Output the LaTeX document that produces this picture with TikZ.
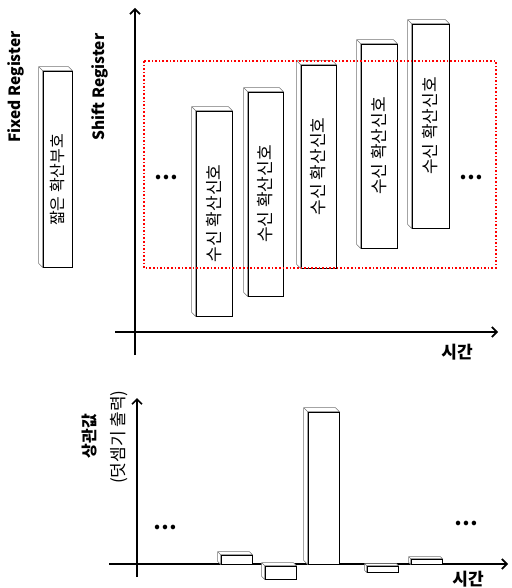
\documentclass[tikz,border=0pt]{standalone}
\usepackage{fontspec}
\newfontfamily\kr{Noto Sans CJK KR}
\usetikzlibrary{calc,arrows.meta}
\begin{document}
\begin{tikzpicture}
  [x=1pt,y=-1pt,font=\kr,
   bar/.style={draw,fill=white,inner sep=0pt,line width=0.8pt},
   side/.style={draw=black!55,fill=white,line width=0.6pt},
   axis/.style={line width=1.7pt,-{Straight Barb[length=5pt,width=10pt,line width=1.7pt]}},
   dots/.style={font=\kr\bfseries\fontsize{21}{21}\selectfont}]
  \useasboundingbox (0,0) rectangle (511,588);

  % axes
  \coordinate (y1) at (135,355);
  \coordinate (y1e) at (135,8);
  \coordinate (x1) at (115,332);
  \coordinate (x1e) at (498,332);
  \coordinate (y2) at (137,577);
  \coordinate (y2e) at (137,398);
  \coordinate (x2) at (109,564);
  \coordinate (x2e) at (508,564);
  \draw[axis] (y1) -- (y1e);
  \draw[axis] (x1) -- (x1e);
  \draw[axis] (y2) -- (y2e);
  \draw[axis] (x2) -- (x2e);

  % registers
  \node (f1)[bar,minimum width=29pt,minimum height=196pt] at (57.5,169) {\rotatebox{90}{\kr\fontsize{16}{16}\selectfont 짧은 확산부호\hspace{22pt}}};
  \node (s1)[bar,minimum width=36pt,minimum height=205pt] at (214,213.5) {\rotatebox{90}{\kr\fontsize{17}{17}\selectfont 수신 확산신호}};
  \node (s2)[bar,minimum width=35pt,minimum height=204pt] at (265.5,194) {\rotatebox{90}{\kr\fontsize{17}{17}\selectfont 수신 확산신호}};
  \node (s3)[bar,minimum width=35pt,minimum height=203pt] at (318.5,166.5) {\rotatebox{90}{\kr\fontsize{17}{17}\selectfont 수신 확산신호}};
  \node (s4)[bar,minimum width=36pt,minimum height=204pt] at (379,146) {\rotatebox{90}{\kr\fontsize{17}{17}\selectfont 수신 확산신호}};
  \node (s5)[bar,minimum width=37pt,minimum height=204pt] at (430.5,126) {\rotatebox{90}{\kr\fontsize{17}{17}\selectfont 수신 확산신호}};

  % correlator output
  \node (b1)[bar,minimum width=31pt,minimum height=9pt] at (236.5,559.5) {};
  \node (b2)[bar,minimum width=31pt,minimum height=13pt] at (280.5,572.5) {};
  \node (b3)[bar,minimum width=31pt,minimum height=152pt] at (323.5,488) {};
  \node (b4)[bar,minimum width=31pt,minimum height=6pt] at (382.5,569) {};
  \node (b5)[bar,minimum width=31pt,minimum height=5pt] at (426.5,561.5) {};

  \foreach \n/\d in {f1/4,s1/4,s2/4,s3/4,s4/4,s5/4,b1/3,b2/3,b3/4,b4/2,b5/2}
    \draw[side] (\n.south west) -- ++(-\d pt,\d pt) -- ($(\n.north west)+(-\d pt,\d pt)$)
      -- ($(\n.north east)+(-\d pt,\d pt)$) -- (\n.north east) -- (\n.north west) -- cycle
      (\n.north west) -- ++(-\d pt,\d pt);

  % labels
  \node (fr)[rotate=90,font=\kr\bfseries\fontsize{15.5}{15.5}\selectfont] at (16,87) {Fixed Register};
  \node (sr)[rotate=90,font=\kr\bfseries\fontsize{15.5}{15.5}\selectfont] at (100,87) {Shift Register};
  \node (t1)[font=\kr\bfseries\fontsize{17}{17}\selectfont] at (457,352) {시간};
  \node (t2)[font=\kr\bfseries\fontsize{17}{17}\selectfont] at (468,579) {시간};
  \node (ca)[rotate=90,font=\kr\bfseries\fontsize{16}{16}\selectfont] at (90,436) {상관값};
  \node (cb)[rotate=90,font=\kr\fontsize{17}{17}\selectfont] at (119,437) {(덧셈기 출력)};

  \node (d1)[dots] at (166,177) {…};
  \node (d2)[dots] at (471,177) {…};
  \node (d3)[dots] at (165,527) {…};
  \node (d4)[dots] at (466,523) {…};

  % window
  \draw[red,line width=1.6pt,dotted] (144,61) rectangle (496,268);
\end{tikzpicture}
\end{document}
